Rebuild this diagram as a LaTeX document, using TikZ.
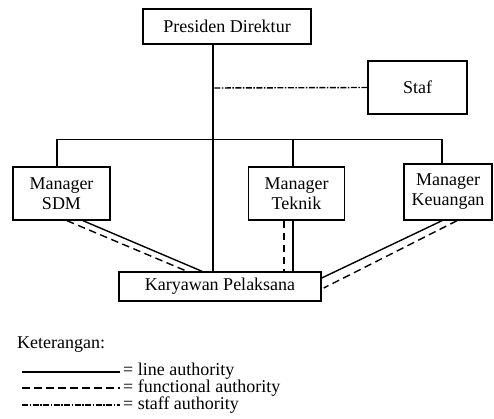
\documentclass[tikz,border=0pt]{standalone}
\usepackage{fontspec}
\setmainfont{Liberation Serif}
\usetikzlibrary{positioning}

\begin{document}
\begin{tikzpicture}[x=1pt,y=-1pt,
  box/.style={draw,line width=1.4pt,align=center,inner sep=0pt,
              font=\fontsize{18}{20}\selectfont},
  lineauth/.style={line width=1.4pt},
  funcauth/.style={line width=1.4pt,dash pattern=on 7.5pt off 4.5pt},
  staffauth/.style={line width=1.4pt,dash pattern=on 6pt off 1.5pt on 1.5pt off 1.5pt},
  legend/.style={font=\fontsize{18}{20}\selectfont,inner sep=0pt,anchor=base west}]
\useasboundingbox (0,0) rectangle (494,419);
\node[box,minimum width=168,minimum height=35] (presdir) at (227,26.5) {Presiden Direktur};
\node[box,minimum width=99,minimum height=53] (staf) at (417.5,87.5) {Staf};
\node[box,minimum width=97,minimum height=53] (sdm) at (61.5,193.5) {Manager\\SDM};
\node[box,minimum width=96,minimum height=53] (teknik) at (296.5,193.5) {Manager\\Teknik};
\node[box,minimum width=88,minimum height=56] (keu) at (448,192) {Manager\\Keuangan};
\node[box,minimum width=202,minimum height=29] (karyawan) at (220,286.5) {Karyawan Pelaksana};
\coordinate (stafjoin) at (213,88);
% line authority
\draw[lineauth] ([xshift=-14]presdir.south) -- ([xshift=-7]karyawan.north);
\draw[lineauth] ([xshift=-4.5]sdm.north) -- ++(0,-27) -| ([xshift=-6]keu.north);
\draw[lineauth] ([xshift=-3.5]teknik.north) -- ++(0,-27);
\draw[lineauth] ([xshift=21.5]sdm.south) -- ([xshift=-18]karyawan.north);
\draw[lineauth] ([xshift=-3.5]teknik.south) -- ([xshift=-3.5]teknik.south |- karyawan.north);
\draw[lineauth] ([xshift=-6]keu.south) -- ([yshift=8.5]karyawan.east);
% functional authority
\draw[funcauth] ([xshift=5.5]sdm.south) -- ([xshift=-33]karyawan.north);
\draw[funcauth] ([xshift=-12.5]teknik.south) -- ([xshift=-12.5]teknik.south |- karyawan.north);
\draw[funcauth] ([xshift=9]keu.south) -- ([xshift=2,yshift=-1.5]karyawan.east);
% staff authority
\draw[staffauth] (staf.west) -- (stafjoin);
% keterangan
\node[legend] (ket) at (17,348) {Keterangan:};
\node[legend] (leg1) at (123,375) {= line authority};
\node[legend] (leg2) at (123,392) {= functional authority};
\node[legend] (leg3) at (123,409) {= staff authority};
\coordinate (key1) at (22,372);
\coordinate (key2) at (22,388);
\coordinate (key3) at (22,405);
\draw[lineauth] (key1) -- ([xshift=-3]key1 -| leg1.west);
\draw[funcauth] (key2) -- ([xshift=-3]key2 -| leg2.west);
\draw[staffauth] (key3) -- ([xshift=-3]key3 -| leg3.west);
\end{tikzpicture}
\end{document}
